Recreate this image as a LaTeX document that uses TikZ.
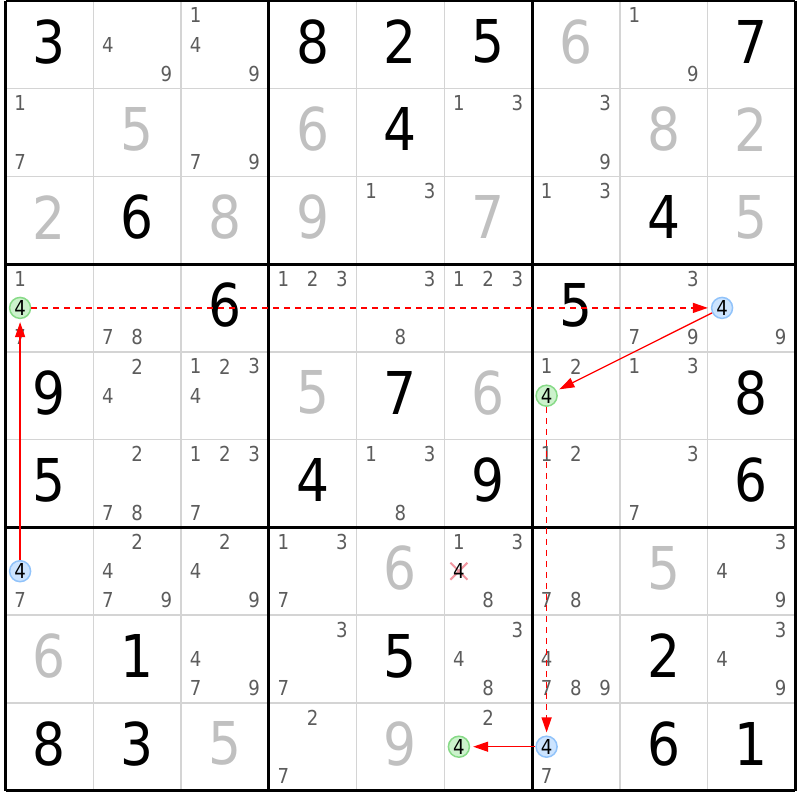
\documentclass[tikz,border=0pt]{standalone}
\usepackage{fontspec}
\setmainfont[FakeStretch=0.88]{DejaVu Sans}
\usetikzlibrary{positioning,arrows.meta,calc}
\definecolor{cellgrey}{RGB}{212,212,212}
\definecolor{solvedgrey}{RGB}{192,192,192}
\definecolor{candgrey}{RGB}{92,92,92}
\definecolor{ongreen}{RGB}{204,242,204}
\definecolor{ongreenline}{RGB}{135,218,135}
\definecolor{offblue}{RGB}{204,228,255}
\definecolor{offblueline}{RGB}{145,195,250}
\definecolor{crossred}{RGB}{242,150,160}
\newcommand{\gridX}{5.5}
\newcommand{\gridY}{0.8}
\newcommand{\cellW}{87.75}
\newcommand{\subW}{29.25}

\begin{document}
\begin{tikzpicture}[x=0.5pt, y=-0.5pt,
given/.style ={text=black, font=\fontsize{29.5}{30}\selectfont, inner sep=0pt, yshift=1.5pt},
solved/.style ={given, text=solvedgrey},
cand/.style ={text=candgrey, font=\fontsize{10.3}{10}\selectfont, inner sep=0pt},
oncand/.style ={circle, draw=ongreenline, fill=ongreen, line width=0.75pt, minimum size=10.5pt, inner sep=0pt, text=black, font=\fontsize{10.3}{10}\selectfont},
offcand/.style ={oncand, draw=offblueline, fill=offblue},
stronglink/.style ={-{Triangle[length=7.5pt,width=5pt]}, red, line width=0.65pt, shorten >=1.5pt},
weaklink/.style ={stronglink, dash pattern=on 3pt off 2.5pt},
cellline/.style ={cellgrey, line width=0.75pt},
boxline/.style ={black, line width=1.5pt},
crossline/.style ={crossred, line width=1pt},
]
\useasboundingbox (0,0) rectangle (800,800);

% grid
\foreach \i in {1,2,4,5,7,8} {
  \draw[cellline] ({\gridX+\i*\cellW},\gridY) -- ({\gridX+\i*\cellW},{\gridY+9*\cellW});
  \draw[cellline] (\gridX,{\gridY+\i*\cellW}) -- ({\gridX+9*\cellW},{\gridY+\i*\cellW});
}
\foreach \i in {0,3,6,9} {
  \draw[boxline] ({\gridX+\i*\cellW},\gridY) -- ({\gridX+\i*\cellW},{\gridY+9*\cellW});
  \draw[boxline] (\gridX,{\gridY+\i*\cellW}) -- ({\gridX+9*\cellW},{\gridY+\i*\cellW});
}

% givens
\foreach \r/\c/\d in {1/1/3, 1/4/8, 1/5/2, 1/6/5, 1/9/7, 2/5/4, 3/2/6, 3/8/4,
  4/3/6, 4/7/5, 5/1/9, 5/5/7, 5/9/8, 6/1/5, 6/4/4, 6/6/9, 6/9/6,
  8/2/1, 8/5/5, 8/8/2, 9/1/8, 9/2/3, 9/8/6, 9/9/1}
  \node[given] (G\r\c) at ({\gridX+(\c-0.5)*\cellW},{\gridY+(\r-0.5)*\cellW}) {\d};

% solved
\foreach \r/\c/\d in {1/7/6, 2/2/5, 2/4/6, 2/8/8, 2/9/2, 3/1/2, 3/3/8, 3/4/9, 3/6/7, 3/9/5,
  5/4/5, 5/6/6, 7/5/6, 7/8/5, 8/1/6, 9/3/5, 9/5/9}
  \node[solved] (S\r\c) at ({\gridX+(\c-0.5)*\cellW},{\gridY+(\r-0.5)*\cellW}) {\d};

% candidates
\foreach \r/\c/\ds in {1/2/{4,9}, 1/3/{1,4,9}, 1/8/{1,9},
  2/1/{1,7}, 2/3/{7,9}, 2/6/{1,3}, 2/7/{3,9},
  3/5/{1,3}, 3/7/{1,3},
  4/1/{1,7}, 4/2/{7,8}, 4/4/{1,2,3}, 4/5/{3,8}, 4/6/{1,2,3}, 4/8/{3,7,9}, 4/9/{9},
  5/2/{2,4}, 5/3/{1,2,3,4}, 5/7/{1,2}, 5/8/{1,3},
  6/2/{2,7,8}, 6/3/{1,2,3,7}, 6/5/{1,3,8}, 6/7/{1,2}, 6/8/{3,7},
  7/1/{7}, 7/2/{2,4,7,9}, 7/3/{2,4,9}, 7/4/{1,3,7}, 7/6/{1,3,8}, 7/7/{7,8}, 7/9/{3,4,9},
  8/3/{4,7,9}, 8/4/{3,7}, 8/6/{3,4,8}, 8/7/{4,7,8,9}, 8/9/{3,4,9},
  9/4/{2,7}, 9/6/{2}, 9/7/{7}} {
  \foreach \d in \ds {
    \pgfmathtruncatemacro{\sr}{(\d-1)/3}
    \pgfmathtruncatemacro{\sc}{mod(\d-1,3)}
    \node[cand] (C\r\c\d) at ({\gridX+(\c-1)*\cellW+(\sc+0.5)*\subW},{\gridY+(\r-1)*\cellW+(\sr+0.5)*\subW}) {\d};
  }
}

% chain on digit 4
\node (B71) [offcand] at (20.1,571.2) {4};
\node (G41) [oncand] at (20.1,307.9) {4};
\node (B49) [offcand] at (722.1,307.9) {4};
\node (G57) [oncand] at (546.6,395.7) {4};
\node (B97) [offcand] at (546.6,746.7) {4};
\node (G96) [oncand] at (458.9,746.7) {4};

% elimination
\coordinate (X76) at (458.9,571.2);
\draw[crossline] ($(X76)+(-8.5,-8.5)$) -- ($(X76)+(8.5,8.5)$);
\draw[crossline] ($(X76)+(-8.5,8.5)$) -- ($(X76)+(8.5,-8.5)$);
\node (C764) [cand, text=black] at (X76) {4};

\draw[stronglink] (B71) -- (G41);
\draw[weaklink] (G41) -- (B49);
\draw[stronglink] (B49) -- (G57);
\draw[weaklink] (G57) -- (B97);
\draw[stronglink] (B97) -- (G96);

\end{tikzpicture}
\end{document}
